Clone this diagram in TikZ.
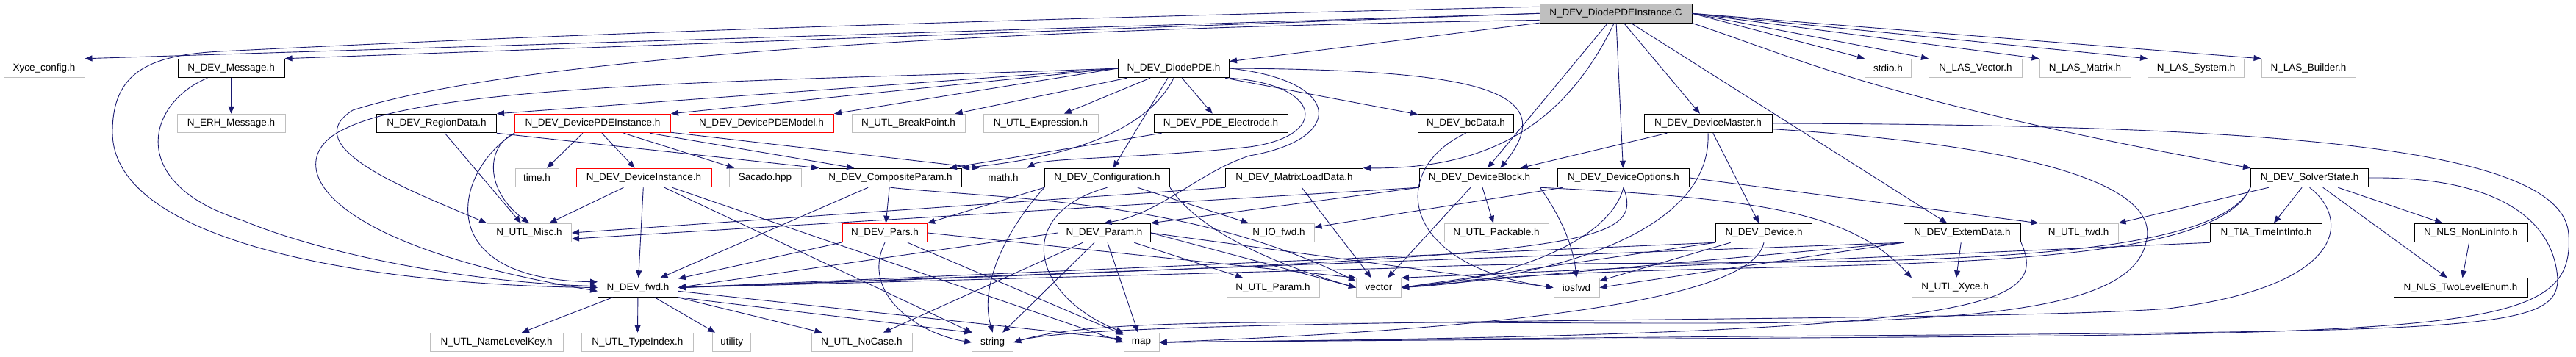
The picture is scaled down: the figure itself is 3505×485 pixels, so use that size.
\documentclass[tikz,border=0pt]{standalone}
\usepackage{fontspec}
\setmainfont{Liberation Sans}
\usepackage{xcolor}
\usepackage{tikz}
\usetikzlibrary{arrows.meta}

\definecolor{edgeblue}{HTML}{191970}
\definecolor{extgray}{HTML}{BFBFBF}

\tikzset{
  file/.style={rectangle, draw, line width=1pt, minimum height=25.5pt, inner sep=0pt,
    font=\fontsize{13.5}{16}\selectfont},
  hdr/.style={file, draw=black},
  ext/.style={file, draw=extgray},
  trunc/.style={file, draw=red},
  src/.style={file, draw=black, fill=extgray},
  incl/.style={draw=edgeblue, line width=0.9pt, -{Triangle[length=10pt,width=8pt]}}
}

\begin{document}
\begin{tikzpicture}[x=1pt,y=-1pt]
  \useasboundingbox (0,0) rectangle (3505,485);
  % Quelldatei
  \node[src, minimum width=207pt] (root) at (2198.5,18.3) {N\_DEV\_DiodePDEInstance.C};
  % Ebene 1
  \node[ext, minimum width=110pt] (xyce) at (60,93) {Xyce\_config.h};
  \node[hdr, minimum width=145pt] (devmsg) at (314.6,93) {N\_DEV\_Message.h};
  \node[hdr, minimum width=151pt] (diodepde) at (1597,93) {N\_DEV\_DiodePDE.h};
  \node[ext, minimum width=63pt] (stdio) at (2569,93) {stdio.h};
  \node[ext, minimum width=127pt] (lasvec) at (2688,93) {N\_LAS\_Vector.h};
  \node[ext, minimum width=124pt] (lasmat) at (2837,93) {N\_LAS\_Matrix.h};
  \node[ext, minimum width=131pt] (lassys) at (2988,93) {N\_LAS\_System.h};
  \node[ext, minimum width=128pt] (lasbld) at (3141,93) {N\_LAS\_Builder.h};
  % Ebene 2
  \node[ext, minimum width=147pt] (erhmsg) at (314.6,168) {N\_ERH\_Message.h};
  \node[hdr, minimum width=163pt] (region) at (594,168) {N\_DEV\_RegionData.h};
  \node[trunc, minimum width=212pt] (pdeinst) at (806.5,168) {N\_DEV\_DevicePDEInstance.h};
  \node[trunc, minimum width=197pt] (pdemodel) at (1036,168) {N\_DEV\_DevicePDEModel.h};
  \node[ext, minimum width=154pt] (brkpt) at (1236,168) {N\_UTL\_BreakPoint.h};
  \node[ext, minimum width=156pt] (expr) at (1416,168) {N\_UTL\_Expression.h};
  \node[hdr, minimum width=182pt] (electrode) at (1661,168) {N\_DEV\_PDE\_Electrode.h};
  \node[hdr, minimum width=130pt] (bcdata) at (1994.5,168) {N\_DEV\_bcData.h};
  \node[hdr, minimum width=174pt] (devmaster) at (2324,168) {N\_DEV\_DeviceMaster.h};
  % Ebene 3
  \node[ext, minimum width=59pt] (timeh) at (730.6,242) {time.h};
  \node[trunc, minimum width=184pt] (devinst) at (876,242) {N\_DEV\_DeviceInstance.h};
  \node[ext, minimum width=98pt] (sacado) at (1041,242) {Sacado.hpp};
  \node[hdr, minimum width=194pt] (compparam) at (1211.5,242) {N\_DEV\_CompositeParam.h};
  \node[ext, minimum width=64pt] (mathh) at (1365,242) {math.h};
  \node[hdr, minimum width=170pt] (config) at (1506.5,242) {N\_DEV\_Configuration.h};
  \node[hdr, minimum width=187pt] (mload) at (1761,242) {N\_DEV\_MatrixLoadData.h};
  \node[hdr, minimum width=164pt] (devblock) at (2013,242) {N\_DEV\_DeviceBlock.h};
  \node[hdr, minimum width=179pt] (devopts) at (2209,242) {N\_DEV\_DeviceOptions.h};
  \node[hdr, minimum width=160pt] (solver) at (3142.5,242) {N\_DEV\_SolverState.h};
  % Ebene 4
  \node[ext, minimum width=115pt] (misch) at (720,317) {N\_UTL\_Misc.h};
  \node[trunc, minimum width=115pt] (pars) at (1204,317) {N\_DEV\_Pars.h};
  \node[hdr, minimum width=126pt] (param) at (1502.5,317) {N\_DEV\_Param.h};
  \node[ext, minimum width=96pt] (iofwd) at (1740,317) {N\_IO\_fwd.h};
  \node[ext, minimum width=142pt] (packable) at (2036,317) {N\_UTL\_Packable.h};
  \node[hdr, minimum width=131pt] (device) at (2400,317) {N\_DEV\_Device.h};
  \node[hdr, minimum width=159pt] (extdata) at (2670,317) {N\_DEV\_ExternData.h};
  \node[ext, minimum width=108pt] (utlfwd) at (2828,317) {N\_UTL\_fwd.h};
  \node[hdr, minimum width=152pt] (tia) at (3083.5,317) {N\_TIA\_TimeIntInfo.h};
  \node[hdr, minimum width=154pt] (nonlin) at (3362,317) {N\_NLS\_NonLinInfo.h};
  % Ebene 5
  \node[hdr, minimum width=109pt] (devfwd) at (868,391.5) {N\_DEV\_fwd.h};
  \node[ext, minimum width=126pt] (utlparam) at (1732,391.5) {N\_UTL\_Param.h};
  \node[ext, minimum width=61pt] (vector) at (1876,391.5) {vector};
  \node[ext, minimum width=62pt] (iosfwd) at (2145,391.5) {iosfwd};
  \node[ext, minimum width=117pt] (utlxyce) at (2660,391.5) {N\_UTL\_Xyce.h};
  \node[hdr, minimum width=182pt] (twolevel) at (3348,391.5) {N\_NLS\_TwoLevelEnum.h};
  % Ebene 6
  \node[ext, minimum width=181pt] (namekey) at (675.7,466) {N\_UTL\_NameLevelKey.h};
  \node[ext, minimum width=152pt] (typeidx) at (867.4,466) {N\_UTL\_TypeIndex.h};
  \node[ext, minimum width=52pt] (utility) at (995.8,466) {utility};
  \node[ext, minimum width=137pt] (nocase) at (1172.6,466) {N\_UTL\_NoCase.h};
  \node[ext, minimum width=56pt] (string) at (1350.7,466) {string};
  \node[ext, minimum width=48pt] (map) at (1553,466) {map};

  % Kanten der Quelldatei
  \draw[incl] (root.west) -- (xyce.north east);
  \draw[incl] (root.west) -- (devmsg.north east);
  \draw[incl] (root) -- (diodepde);
  \draw[incl] (root.east) -- (stdio.north west);
  \draw[incl] (root.east) -- (lasvec.north west);
  \draw[incl] (root.east) -- (lasmat.north west);
  \draw[incl] (root.east) -- (lassys.north west);
  \draw[incl] (root.east) -- (lasbld.north west);
  \draw[incl] (root) -- (devmaster);
  \draw[incl] (root.-100) .. controls (2120,190) and (2000,230) .. (mload.north east);
  \draw[incl] (root) -- (devblock);
  \draw[incl] (root) -- (devopts);
  \draw[incl] (root) -- (extdata);
  \draw[incl] (root.south east) .. controls (2450,80) and (2550,135) .. (solver.north west);
  \draw[incl] (root.175) .. controls (1200,30) and (700,50) .. (300,70)
    .. controls (200,75) and (153,100) .. (153,180)
    .. controls (153,330) and (500,388) .. (devfwd.west);
  \draw[incl] (root.185) .. controls (1300,40) and (700,80) .. (480,150)
    .. controls (400,200) and (560,260) .. (misch.north west);
  % DiodePDE
  \draw[incl] (diodepde.west) -- (region.north east);
  \draw[incl] (diodepde.west) -- (pdeinst.north east);
  \draw[incl] (diodepde.west) -- (pdemodel.north east);
  \draw[incl] (diodepde) -- (brkpt);
  \draw[incl] (diodepde) -- (expr);
  \draw[incl] (diodepde) -- (electrode);
  \draw[incl] (diodepde) -- (bcdata);
  \draw[incl] (diodepde) -- (config);
  \draw[incl] (diodepde.south) .. controls (1560,180) and (1450,215) .. (compparam.north east);
  \draw[incl] (diodepde.south east) .. controls (1800,115) and (1810,185) .. (1700,200)
    .. controls (1560,215) and (1420,215) .. (mathh.north east);
  \draw[incl] (diodepde.east) .. controls (2000,95) and (2130,120) .. (devblock.25);
  \draw[incl] (diodepde.east) .. controls (1830,110) and (1830,190) .. (1700,212)
    .. controls (1630,235) and (1580,290) .. (param.north);
  \draw[incl] (diodepde.west) .. controls (1100,110) and (600,110) .. (470,175)
    .. controls (380,215) and (420,330) .. (devfwd.185);
  % Message
  \draw[incl] (devmsg) -- (erhmsg);
  \draw[incl] (devmsg) .. controls (200,140) and (170,250) .. (330,300)
    .. controls (450,350) and (650,385) .. (devfwd.178);
  % RegionData, DevicePDEInstance, Electrode, bcData
  \draw[incl] (region) -- (misch);
  \draw[incl] (region.south east) -- (compparam.north west);
  \draw[incl] (pdeinst) -- (timeh);
  \draw[incl] (pdeinst) -- (devinst);
  \draw[incl] (pdeinst) -- (sacado);
  \draw[incl] (pdeinst) -- (compparam.165);
  \draw[incl] (pdeinst) -- (mathh.north west);
  \draw[incl] (pdeinst.south west) .. controls (660,200) and (660,260) .. (misch.north);
  \draw[incl] (pdeinst.south west) .. controls (620,230) and (580,380) .. (devfwd.172);
  \draw[incl] (electrode) -- (compparam);
  \draw[incl] (bcdata.south) .. controls (1890,230) and (1900,360) .. (iosfwd.west);
  % DeviceMaster
  \draw[incl] (devmaster) -- (devblock);
  \draw[incl] (devmaster) -- (device);
  \draw[incl] (devmaster.south) .. controls (2330,320) and (2100,380) .. (vector.east);
  \draw[incl] (devmaster.east) .. controls (3100,170) and (3490,200) .. (3495,320)
    .. controls (3505,480) and (3300,450) .. (map.east);
  \draw[incl] (devmaster.-5) .. controls (2800,200) and (2940,260) .. (2920,330)
    .. controls (2900,420) and (2700,440) .. (2300,440)
    .. controls (1800,440) and (1500,430) .. (string.east);
  % DeviceInstance, CompositeParam
  \draw[incl] (devinst) -- (misch);
  \draw[incl] (devinst) -- (devfwd);
  \draw[incl] (devinst) -- (string);
  \draw[incl] (devinst) -- (map.west);
  \draw[incl] (compparam) -- (pars);
  \draw[incl] (compparam) -- (devfwd);
  \draw[incl] (compparam.south) .. controls (1350,270) and (1620,270) .. (vector.165);
  % Configuration
  \draw[incl] (config.south west) -- (pars.north east);
  \draw[incl] (config) -- (iofwd);
  \draw[incl] (config.south west) .. controls (1380,300) and (1330,380) .. (string.north);
  \draw[incl] (config.south) .. controls (1380,290) and (1400,400) .. (map.north west);
  \draw[incl] (config.south east) .. controls (1620,300) and (1700,350) .. (vector.west);
  % MatrixLoadData, DeviceBlock
  \draw[incl] (mload) -- (vector);
  \draw[incl] (mload.south west) -- (misch.east);
  \draw[incl] (devblock.south west) -- (misch.-8);
  \draw[incl] (devblock.south west) -- (param.north east);
  \draw[incl] (devblock) -- (vector);
  \draw[incl] (devblock) -- (packable);
  \draw[incl] (devblock.south east) .. controls (2120,290) and (2140,330) .. (iosfwd.north);
  \draw[incl] (devblock.south east) .. controls (2400,270) and (2520,290) .. (utlxyce.north west);
  % DeviceOptions
  \draw[incl] (devopts) -- (iofwd);
  \draw[incl] (devopts.east) -- (utlfwd.north west);
  \draw[incl] (devopts.south) .. controls (2190,330) and (2050,380) .. (vector.east);
  \draw[incl] (devopts.south) .. controls (2240,340) and (2150,350) .. (devfwd.east);
  % Param, Pars
  \draw[incl] (param.west) -- (devfwd.east);
  \draw[incl] (param) -- (nocase);
  \draw[incl] (param) -- (string);
  \draw[incl] (param) -- (map);
  \draw[incl] (param) -- (utlparam);
  \draw[incl] (param.east) -- (vector.west);
  \draw[incl] (param.east) -- (iosfwd.west);
  \draw[incl] (pars) -- (devfwd);
  \draw[incl] (pars.south) .. controls (1170,400) and (1250,455) .. (string.west);
  \draw[incl] (pars) -- (map);
  \draw[incl] (pars.east) -- (vector.north west);
  % Device, ExternData
  \draw[incl] (device.south west) -- (devfwd.east);
  \draw[incl] (device.south west) -- (vector.east);
  \draw[incl] (device) -- (iosfwd);
  \draw[incl] (device.south) .. controls (2390,380) and (2250,440) .. (map.east);
  \draw[incl] (extdata.south west) -- (devfwd.east);
  \draw[incl] (extdata.south west) -- (vector.east);
  \draw[incl] (extdata.south west) -- (iosfwd.east);
  \draw[incl] (extdata) -- (utlxyce);
  \draw[incl] (extdata.south east) .. controls (2790,420) and (2700,455) .. (map.east);
  % SolverState
  \draw[incl] (solver) -- (utlfwd.north east);
  \draw[incl] (solver) -- (tia);
  \draw[incl] (solver) -- (nonlin);
  \draw[incl] (solver) -- (twolevel);
  \draw[incl] (solver.south west) .. controls (3000,400) and (2300,340) .. (vector.east);
  \draw[incl] (solver.south west) .. controls (3000,390) and (2300,345) .. (1900,365) -- (devfwd.east);
  \draw[incl] (solver.east) .. controls (3400,240) and (3475,300) .. (3480,380)
    .. controls (3480,470) and (3300,445) .. (map.east);
  \draw[incl] (solver.south) .. controls (3200,300) and (3190,390) .. (2950,420)
    .. controls (2700,440) and (1500,430) .. (string.east);
  \draw[incl] (tia.south west) -- (vector.north east);
  \draw[incl] (nonlin) -- (twolevel);
  % N_DEV_fwd
  \draw[incl] (devfwd) -- (namekey);
  \draw[incl] (devfwd) -- (typeidx);
  \draw[incl] (devfwd) -- (utility);
  \draw[incl] (devfwd) -- (nocase);
  \draw[incl] (devfwd.south east) -- (string.north west);
  \draw[incl] (devfwd.-5) -- (map.170);
\end{tikzpicture}
\end{document}
